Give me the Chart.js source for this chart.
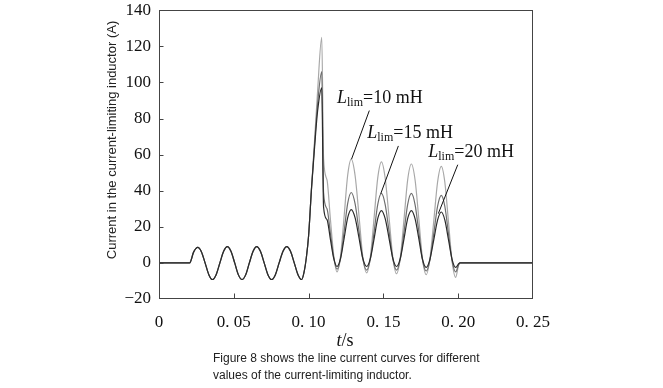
<!DOCTYPE html>
<html>
<head>
<meta charset="utf-8">
<script src="https://cdn.jsdelivr.net/npm/chart.js@4"></script>
<style>
  html, body { margin: 0; padding: 0; background: #fff; }
  #wrap { position: relative; width: 663px; height: 388px; }
  #caption {
    position: absolute; left: 213px; top: 350px;
    font-family: "Liberation Sans", Arial, sans-serif; font-size: 12px;
    line-height: 17px; color: #222;
  }
</style>
</head>
<body>
<div id="wrap">
  <canvas id="chart" width="663" height="388"></canvas>
  <div id="caption">Figure 8 shows the line current curves for different<br>values of the current-limiting inductor.</div>
</div>
<script>
// time in seconds, shared by the three curves
const timeS = [
  0, 0.0205, 0.0232, 0.0259, 0.0284, 0.0308, 0.0333, 0.0357, 0.0382, 0.0407,
  0.0432, 0.0457, 0.0481, 0.0506, 0.0530, 0.0555, 0.0580, 0.0604, 0.0629, 0.0653,
  0.0678, 0.0703, 0.0728, 0.0753, 0.0778, 0.0803, 0.0829, 0.0854, 0.0879, 0.0904,
  0.0929, 0.0954,
  0.0970, 0.0985, 0.1000, 0.1020, 0.1040, 0.1060, 0.1088, 0.1100,
  0.1123, 0.1145, 0.1168, 0.1190,
  0.1214, 0.1238, 0.1261, 0.1285, 0.1311, 0.1337, 0.1362, 0.1388,
  0.1413, 0.1438, 0.1462, 0.1487, 0.1512, 0.1538, 0.1563, 0.1588,
  0.1613, 0.1638, 0.1662, 0.1687, 0.1712, 0.1737, 0.1761, 0.1786,
  0.1811, 0.1837, 0.1862, 0.1887, 0.1911, 0.1935, 0.1959, 0.1983,
  0.2003, 0.2012, 0.2500];

// before the fault the three currents are the same
const prefaultCurrent = [
  0, 0, 6.1, 8.6, 6.1, 0, -6.5, -9.2, -6.5, 0,
  6.4, 9.0, 6.4, 0, -6.5, -9.2, -6.5, 0, 6.4, 9.0,
  6.4, 0, -6.5, -9.2, -6.5, 0, 6.4, 9.0, 6.4, 0,
  -6.5, -9.2];

const current10mH = prefaultCurrent.concat([
  -5, 3, 15, 42, 68, 95, 125, 58,
  46, 25, 4, -5,
  4.2, 26.3, 48.4, 57.5, 48.3, 26, 3.7, -5.5,
  3.5, 25.3, 47, 56, 46.9, 25, 3.1, -6,
  2.9, 24.4, 45.9, 54.8, 45.8, 24.2, 2.5, -6.5,
  2.3, 23.5, 44.7, 53.5, 44.5, 22.8, 1.0, -8,
  -1, 0, 0]);
const current15mH = prefaultCurrent.concat([
  -5, 3, 15, 42, 66, 88, 106, 39,
  30, 17, 3, -3.5,
  2.7, 17.8, 32.8, 39, 32.7, 17.5, 2.3, -4,
  2.2, 17.3, 32.3, 38.5, 32.3, 17.3, 2.2, -4,
  2.2, 17.3, 32.3, 38.5, 32.2, 17, 1.8, -4.5,
  1.6, 16.5, 31.3, 37.4, 31.2, 16.2, 1.2, -5,
  -1, 0, 0]);
const current20mH = prefaultCurrent.concat([
  -5, 3, 15, 42, 64, 84, 97, 31,
  24, 13.5, 2.5, -2,
  2.6, 13.8, 24.9, 29.5, 24.9, 13.8, 2.6, -2,
  2.5, 13.5, 24.5, 29, 24.5, 13.5, 2.5, -2,
  2.5, 13.5, 24.5, 29, 24.4, 13.3, 2.1, -2.5,
  2.0, 12.9, 23.7, 28.2, 23.7, 12.9, 2.0, -2.5,
  -0.5, 0, 0]);

const xTickValues = [0, 0.05, 0.10, 0.15, 0.20, 0.25];
const xTickLabels = ['0', '0. 05', '0. 10', '0. 15', '0. 20', '0. 25'];
const yTickValues = [-20, 0, 20, 40, 60, 80, 100, 120, 140];
const yTickLabels = ['\u221220', '0', '20', '40', '60', '80', '100', '120', '140'];

const seriesNames = ['10 mH', '15 mH', '20 mH'];

// label text anchor (t, value) and leader line ends
const notes = [
  { text: '10 mH', at: [0.1190, 88.6], line: [[0.1406, 84.4], [0.1287, 57.5]] },
  { text: '15 mH', at: [0.1392, 69.0], line: [[0.1600, 64.8], [0.1482, 38.3]] },
  { text: '20 mH', at: [0.1800, 58.4], line: [[0.1997, 54.4], [0.1867, 27.3]] }
];

function toPoints(values) {
  return timeS.map((t, i) => ({ x: t, y: values[i] }));
}

const serif = '"Liberation Serif", "Times New Roman", serif';

const frameAndNotes = {
  id: 'frameAndNotes',
  afterDatasetsDraw(chart) {
    const { ctx, chartArea: a, scales: { x, y } } = chart;
    ctx.save();
    ctx.strokeStyle = '#444';
    ctx.lineWidth = 1;
    const l = Math.round(a.left) + 0.5, r = Math.round(a.right) - 0.5;
    const t = Math.round(a.top) + 0.5, b = Math.round(a.bottom) - 0.5;
    ctx.strokeRect(l, t, r - l, b - t);

    // inward ticks, kept inside the frame
    ctx.beginPath();
    yTickValues.forEach(v => {
      const py = Math.min(b, Math.max(t, Math.round(y.getPixelForValue(v)) + 0.5));
      ctx.moveTo(l, py); ctx.lineTo(l + 4, py);
    });
    xTickValues.forEach(v => {
      const px = Math.min(r, Math.max(l, Math.round(x.getPixelForValue(v)) + 0.5));
      ctx.moveTo(px, b); ctx.lineTo(px, b - 5);
    });
    ctx.stroke();

    // leader lines and labels
    ctx.strokeStyle = '#111';
    ctx.fillStyle = '#111';
    ctx.textBaseline = 'alphabetic';
    notes.forEach(n => {
      ctx.beginPath();
      ctx.moveTo(x.getPixelForValue(n.line[0][0]), y.getPixelForValue(n.line[0][1]));
      ctx.lineTo(x.getPixelForValue(n.line[1][0]), y.getPixelForValue(n.line[1][1]));
      ctx.stroke();

      let px = x.getPixelForValue(n.at[0]);
      const py = y.getPixelForValue(n.at[1]);
      ctx.font = 'italic 18px ' + serif;
      ctx.fillText('L', px, py);
      px += ctx.measureText('L').width;
      ctx.font = '12px ' + serif;
      ctx.fillText('lim', px, py + 3);
      px += ctx.measureText('lim').width;
      ctx.font = '18px ' + serif;
      ctx.fillText('=' + n.text, px, py);
    });

    // x axis title t/s
    ctx.font = 'italic 18px ' + serif;
    const tw = ctx.measureText('t').width;
    ctx.font = '18px ' + serif;
    const sw = ctx.measureText('/s').width;
    const tx = 345 - (tw + sw) / 2;
    ctx.font = 'italic 18px ' + serif;
    ctx.fillText('t', tx, 346);
    ctx.font = '18px ' + serif;
    ctx.fillText('/s', tx + tw, 346);

    // y axis title
    ctx.translate(116, 140);
    ctx.rotate(-Math.PI / 2);
    ctx.textAlign = 'center';
    ctx.font = '13px "Liberation Sans", Arial, sans-serif';
    ctx.fillStyle = '#222';
    ctx.fillText('Current in the current-limiting inductor (A)', 0, 0);
    ctx.restore();
  }
};

new Chart(document.getElementById('chart'), {
  type: 'line',
  data: {
    datasets: [
      { label: seriesNames[2], data: toPoints(current20mH), borderColor: '#2a2a2a', order: 1 },
      { label: seriesNames[1], data: toPoints(current15mH), borderColor: '#6e6e6e', order: 2 },
      { label: seriesNames[0], data: toPoints(current10mH), borderColor: '#a8a8a8', order: 3 }
    ]
  },
  options: {
    responsive: false,
    animation: false,
    devicePixelRatio: 1,
    layout: { padding: { left: 0, right: 130, top: 8, bottom: 29 } },
    elements: {
      point: { radius: 0 },
      line: { borderWidth: 1.2, cubicInterpolationMode: 'monotone' }
    },
    plugins: { legend: { display: false }, tooltip: { enabled: false } },
    scales: {
      x: {
        type: 'linear', min: 0, max: 0.25,
        afterBuildTicks: s => { s.ticks = xTickValues.map(v => ({ value: v })); },
        afterFit: s => { s.height = 60; },
        grid: { display: false },
        border: { display: false },
        ticks: {
          callback: (v, i) => xTickLabels[i],
          font: { family: serif, size: 17 },
          color: '#111', padding: 5, maxRotation: 0, autoSkip: false
        }
      },
      y: {
        type: 'linear', min: -20, max: 140,
        afterBuildTicks: s => { s.ticks = yTickValues.map(v => ({ value: v })); },
        afterFit: s => { s.width = 159; },
        grid: { display: false },
        border: { display: false },
        ticks: {
          callback: (v, i) => yTickLabels[i],
          font: { family: serif, size: 17 },
          color: '#111', padding: 0, autoSkip: false
        }
      }
    }
  },
  plugins: [frameAndNotes]
});
</script>
</body>
</html>
